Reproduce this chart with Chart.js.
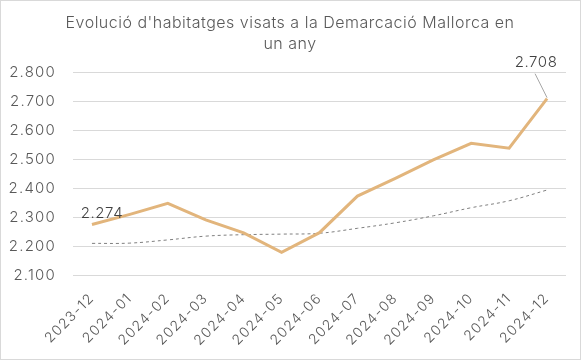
<!DOCTYPE html>
<html>
<head>
<meta charset="utf-8">
<script src="https://cdn.jsdelivr.net/npm/chart.js@4.4.1/dist/chart.umd.min.js"></script>
<style>
  html, body { margin: 0; padding: 0; background: #fff; }
  #wrap { width: 579px; height: 358px; border: 1px solid #d9d9d9; position: relative; }
  canvas { display: block; }
</style>
</head>
<body>
<div id="wrap"><canvas id="c" width="579" height="358"></canvas></div>
<script>
const titleLines = ["Evolució d'habitatges visats a la Demarcació Mallorca en", "un any"];
const categories = ["2023-12","2024-01","2024-02","2024-03","2024-04","2024-05","2024-06","2024-07","2024-08","2024-09","2024-10","2024-11","2024-12"];
const visats = [2274, 2309, 2347, 2290, 2245, 2178, 2246, 2372, 2433, 2497, 2554, 2537, 2708];
const tendencia = [2209, 2210, 2221, 2234, 2239, 2241, 2244, 2261, 2280, 2304, 2332, 2356, 2393];
const yMin = 2100, yMax = 2800, yStep = 100;

const FONT = "Inter, 'Open Sans', sans-serif";
const fmt = v => String(v).replace(/\B(?=(\d{3})+(?!\d))/g, '.');

const spacing = {
  id: 'spacing',
  beforeUpdate(chart) { chart.ctx.letterSpacing = '1.2px'; },
  beforeDraw(chart) { chart.ctx.letterSpacing = '1.2px'; }
};

const overlay = {
  id: 'overlay',
  afterDraw(chart) {
    const ctx = chart.ctx;
    ctx.save();
    // title
    ctx.letterSpacing = '0.5px';
    ctx.fillStyle = '#595959';
    ctx.font = "300 16px " + FONT;
    ctx.textAlign = 'center';
    ctx.textBaseline = 'alphabetic';
    ctx.fillText(titleLines[0], 289, 27);
    ctx.fillText(titleLines[1], 289, 48);
    // data labels
    const meta = chart.getDatasetMeta(0);
    const p0 = meta.data[0];
    const pN = meta.data[meta.data.length - 1];
    ctx.letterSpacing = '0.6px';
    ctx.font = "300 15px " + FONT;
    ctx.fillStyle = '#404040';
    ctx.fillText(fmt(visats[0]), p0.x + 10, p0.y - 7);
    ctx.fillText(fmt(visats[visats.length - 1]), pN.x - 11, pN.y - 32);
    ctx.strokeStyle = '#a6a6a6';
    ctx.lineWidth = 1;
    ctx.beginPath();
    ctx.moveTo(pN.x - 12, pN.y - 25);
    ctx.lineTo(pN.x, pN.y - 1);
    ctx.stroke();
    ctx.restore();
  }
};

new Chart(document.getElementById('c'), {
  type: 'line',
  data: {
    labels: categories,
    datasets: [
      { data: visats, borderColor: '#E2B57C', borderWidth: 3, pointRadius: 0, tension: 0, fill: false, order: 1 },
      { data: tendencia, borderColor: '#7f7f7f', borderWidth: 1, borderDash: [3, 3], pointRadius: 0, tension: 0.4, fill: false, order: 2 }
    ]
  },
  options: {
    responsive: false,
    animation: false,
    layout: { padding: { left: 0, right: 14, top: 71, bottom: 0 } },
    plugins: { legend: { display: false }, title: { display: false }, tooltip: { enabled: false } },
    scales: {
      x: {
        offset: true,
        grid: { display: false, drawTicks: false },
        border: { display: false },
        ticks: { color: '#595959', font: { family: FONT, size: 14, weight: 300 }, maxRotation: 45, minRotation: 45, padding: 15, autoSkip: false },
        afterFit(s) { s.height = 84; }
      },
      y: {
        min: yMin, max: yMax,
        grid: { color: '#d9d9d9', drawTicks: false },
        border: { display: false },
        ticks: { stepSize: yStep, color: '#595959', font: { family: FONT, size: 15, weight: 300 }, padding: 17, callback: v => fmt(v) },
        afterFit(s) { s.width = 72; }
      }
    }
  },
  plugins: [spacing, overlay]
});
</script>
</body>
</html>
